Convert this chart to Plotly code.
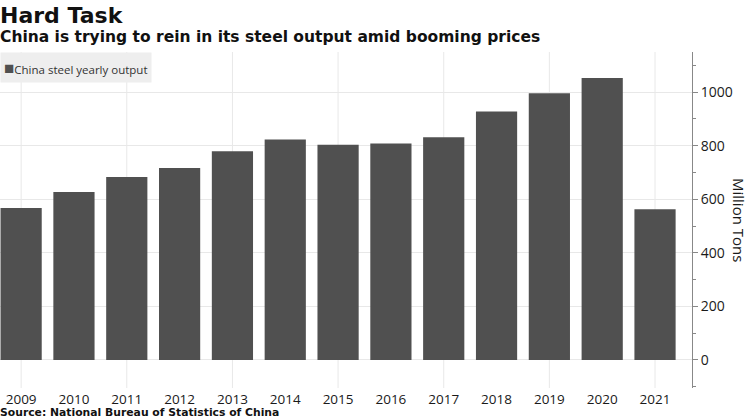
import plotly.graph_objects as go

years = [2009, 2010, 2011, 2012, 2013, 2014, 2015, 2016, 2017, 2018, 2019, 2020, 2021]
output = [567, 627, 683, 717, 779, 823, 804, 808, 832, 928, 996, 1053, 563]
grid_years = years[::2]
series_name = "China steel yearly output"

BAR = "#505050"
GRID = "#e8e8e8"
TXT = "#1a1a1a"
TFONT = "DejaVu Sans"

fig = go.Figure()
fig.add_trace(go.Bar(x=years, y=output, name=series_name, marker=dict(color=BAR, line=dict(width=0)),
                     showlegend=False))

for g in grid_years:
    fig.add_shape(type="line", xref="x", yref="paper", x0=g, x1=g, y0=0, y1=1,
                  line=dict(color=GRID, width=1), layer="below")

fig.update_layout(
    width=748, height=420,
    margin=dict(l=0, r=56, t=52, b=32),
    paper_bgcolor="white", plot_bgcolor="white",
    bargap=0.22,
    showlegend=False,
    xaxis=dict(range=[2008.6, 2021.7], tickmode="array", tickvals=years,
               ticktext=[str(y) for y in years], showgrid=False, zeroline=False,
               showline=False, ticks="", ticklabelstandoff=1,
               tickfont=dict(family="Open Sans", size=13.5, color=TXT)),
    yaxis=dict(side="right", range=[-105, 1150], dtick=200, tick0=0,
               showgrid=True, gridcolor=GRID, gridwidth=1, zeroline=False,
               showline=True, linecolor="#888888", linewidth=1,
               ticks="outside", ticklen=5, tickcolor="#888888",
               minor=dict(dtick=100, tick0=0, ticks="outside", ticklen=3, tickcolor="#888888", showgrid=False),
               tickfont=dict(family="Open Sans", size=14, color=TXT)),
    font=dict(family="Open Sans", color=TXT),
)

# legend drawn as a labelled box
fig.add_annotation(text="<span style='color:#505050;font-size:17px'>■</span>" + series_name,
                   xref="paper", yref="paper", x=0, y=1, xanchor="left", yanchor="top",
                   showarrow=False, bgcolor="#eeeeee", borderpad=3, xshift=0, yshift=0,
                   font=dict(family="Open Sans", size=11.5, color="#333333"))

fig.add_annotation(text="<b>Hard Task</b>", xref="paper", yref="paper", x=0, y=1.110,
                   xanchor="left", yanchor="middle", showarrow=False, xshift=-2,
                   font=dict(family=TFONT, size=22, color="#111111"))
fig.add_annotation(text="<b>China is trying to rein in its steel output amid booming prices</b>",
                   xref="paper", yref="paper", x=0, y=1.0446, xanchor="left", yanchor="middle",
                   showarrow=False, xshift=-2,
                   font=dict(family=TFONT, size=15.5, color="#111111"))
fig.add_annotation(text="<b>Source: National Bureau of Statistics of China</b>",
                   xref="paper", yref="paper", x=0, y=-0.0744, xanchor="left", yanchor="middle",
                   showarrow=False, xshift=-2,
                   font=dict(family=TFONT, size=10.8, color="#111111"))
fig.add_annotation(text="Million Tons", xref="paper", yref="paper", x=1, y=0.5,
                   xanchor="center", yanchor="middle", xshift=47, textangle=90,
                   showarrow=False, font=dict(family="Open Sans", size=15, color=TXT))

fig.write_html("out.html")
